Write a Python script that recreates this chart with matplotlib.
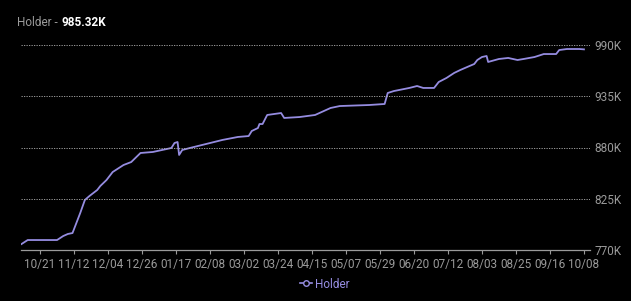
import matplotlib.pyplot as plt
from matplotlib.lines import Line2D
import pandas as pd

plt.rcParams['font.family'] = ['Roboto', 'DejaVu Sans']

# Data (holder count, thousands)
dates = ['2022-10-09', '2022-10-13', '2022-11-01', '2022-11-05', '2022-11-08', '2022-11-11',
         '2022-11-13', '2022-11-16', '2022-11-19', '2022-11-22', '2022-11-27', '2022-11-29',
         '2022-12-03', '2022-12-07', '2022-12-14', '2022-12-19', '2022-12-25', '2023-01-02',
         '2023-01-11', '2023-01-14', '2023-01-16', '2023-01-18', '2023-01-19', '2023-01-21',
         '2023-01-26', '2023-02-08', '2023-02-16', '2023-02-26', '2023-03-05', '2023-03-07',
         '2023-03-11', '2023-03-12', '2023-03-14', '2023-03-17', '2023-03-26', '2023-03-28',
         '2023-04-07', '2023-04-17', '2023-04-27', '2023-05-03', '2023-05-22', '2023-06-01',
         '2023-06-03', '2023-06-07', '2023-06-17', '2023-06-22', '2023-06-26', '2023-07-03',
         '2023-07-06', '2023-07-11', '2023-07-16', '2023-07-20', '2023-07-26', '2023-07-29',
         '2023-07-31', '2023-08-03', '2023-08-06', '2023-08-07', '2023-08-14', '2023-08-20',
         '2023-08-26', '2023-08-30', '2023-09-06', '2023-09-12', '2023-09-20', '2023-09-22',
         '2023-09-27', '2023-10-05', '2023-10-08']
holders = [776.4, 780.7, 780.7, 785.0, 787.2, 788.2,
           796.8, 809.7, 823.7, 828.0, 834.4, 838.7,
           845.1, 853.7, 861.2, 864.4, 874.1, 875.2,
           878.4, 879.5, 884.8, 885.9, 872.0, 877.3,
           879.5, 884.8, 888.1, 891.3, 892.3, 897.7,
           900.9, 905.2, 905.2, 914.9, 917.0, 911.7,
           912.7, 914.9, 922.4, 924.5, 925.6, 926.7,
           938.5, 940.6, 943.9, 946.0, 943.9, 943.9,
           950.3, 954.6, 960.0, 963.2, 967.5, 969.6,
           973.9, 977.1, 978.2, 971.8, 975.0, 976.1,
           973.9, 975.0, 977.1, 980.3, 980.3, 984.6,
           985.7, 985.7, 985.32]
tick_labels = ['10/21', '11/12', '12/04', '12/26', '01/17', '02/08', '03/02', '03/24', '04/15',
               '05/07', '05/29', '06/20', '07/12', '08/03', '08/25', '09/16', '10/08']
y_ticks = [770, 825, 880, 935, 990]

x = pd.to_datetime(dates)
tick_pos = pd.date_range('2022-10-21', periods=len(tick_labels), freq='22D')

bg = '#000000'
line_color = '#958ce0'
grey = '#9a9a9a'

fig = plt.figure(figsize=(6.31, 3.01), dpi=100, facecolor=bg)
ax = fig.add_axes([21/631, 1 - 250/301, (590 - 21)/631, (250 - 45)/301])
ax.set_facecolor(bg)

ax.plot(x, holders, color=line_color, lw=1.3)

ax.set_xlim(pd.Timestamp('2022-10-08 16:00'), pd.Timestamp('2023-10-11 22:00'))
ax.set_ylim(770, 990)

ax.set_xticks(tick_pos)
ax.set_xticklabels(tick_labels)
ax.set_yticks(y_ticks)
ax.set_yticklabels([f'{v}K' for v in y_ticks])
ax.yaxis.tick_right()
ax.tick_params(axis='y', length=0, pad=3, labelsize=8.5, labelcolor=grey)
ax.tick_params(axis='x', length=3, color=grey, pad=3, labelsize=8.5, labelcolor=grey)

for v in y_ticks[1:]:
    ax.axhline(v, color='#b0b0b0', lw=0.6, ls=(0, (1.5, 1.5)))
for s in ['top', 'left', 'right']:
    ax.spines[s].set_visible(False)
ax.spines['bottom'].set_color(grey)
ax.spines['bottom'].set_linestyle((0, (1.5, 1)))
ax.spines['bottom'].set_linewidth(0.9)

# title: grey series name followed by the bold white latest value
t1 = fig.text(17/631, 1 - 22/301, 'Holder -', color=grey, fontsize=8.5, va='center', ha='left')
fig.canvas.draw()
bb = t1.get_window_extent()
fig.text((bb.x1 + 4) / 631, 1 - 22/301, '985.32K', color='white', fontsize=8.5,
         fontweight='bold', va='center', ha='left')

handle = Line2D([], [], color=line_color, marker='o', markersize=4, markerfacecolor=bg,
                lw=1.2)
fig.legend([handle], ['Holder'], loc='center', bbox_to_anchor=(325/631, 1 - 284/301),
           frameon=False, fontsize=8.5, labelcolor=line_color, handlelength=1.0,
           handletextpad=0.3)

fig.savefig('out.png', dpi=100, facecolor=bg)
